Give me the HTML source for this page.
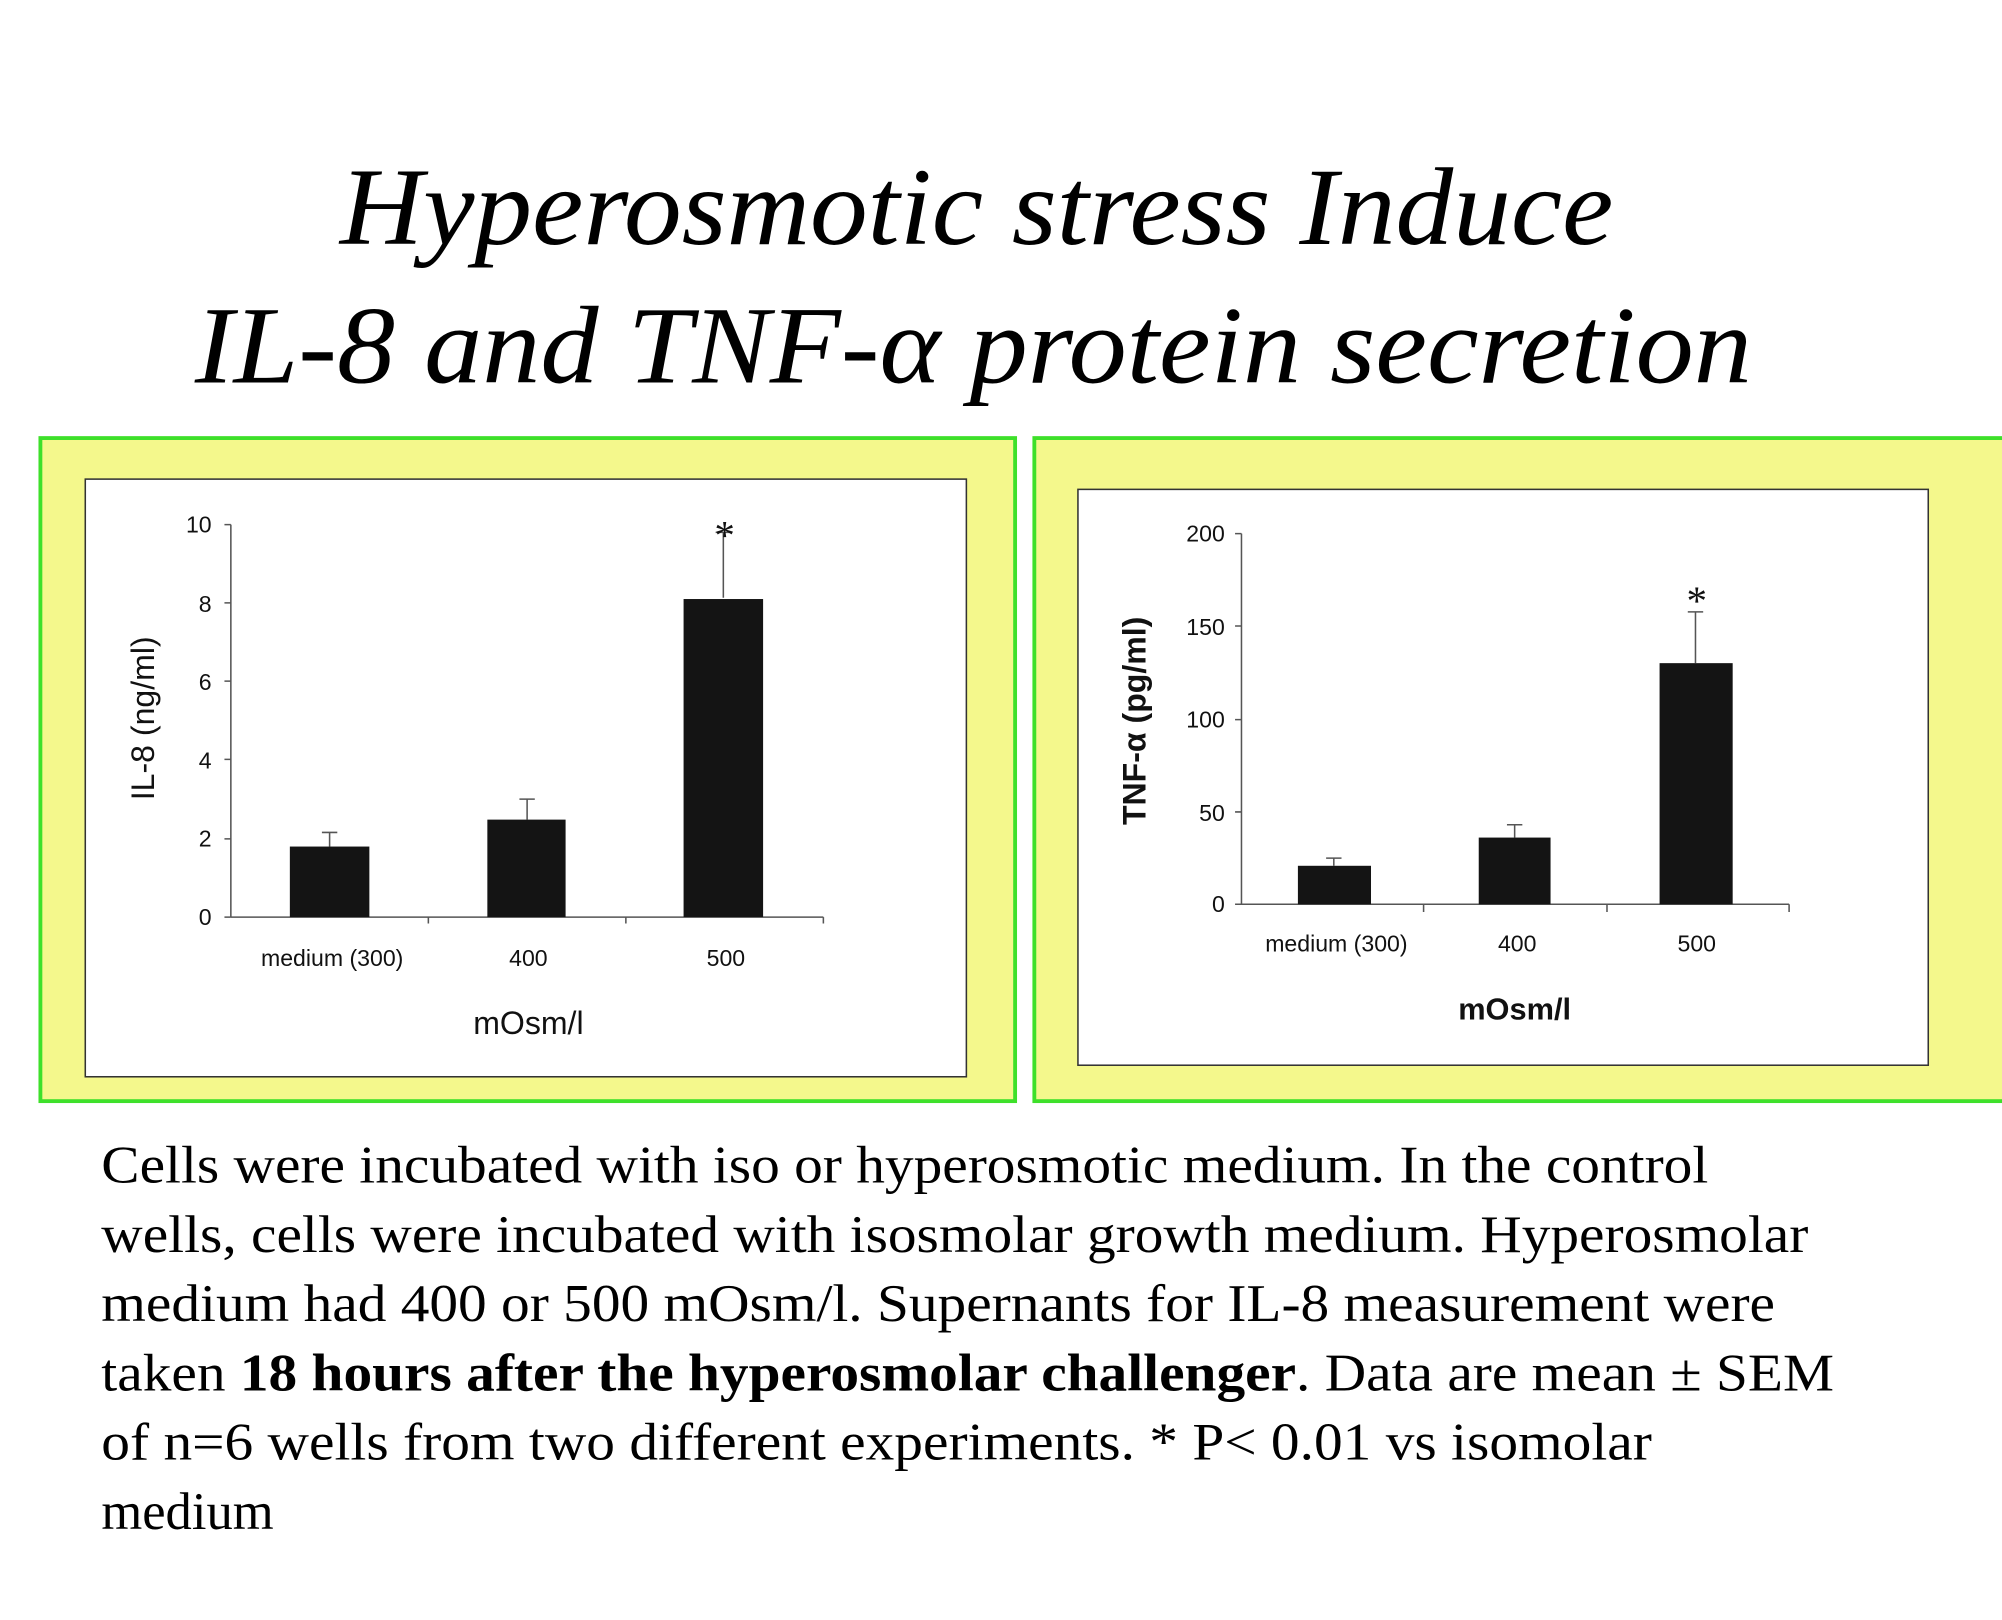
<!DOCTYPE html>
<html><head><meta charset="utf-8"><style>
html,body{margin:0;padding:0;background:#fff;}
svg{display:block;}
</style></head><body>
<svg width="2002" height="1620" viewBox="0 0 1561 1263" xmlns="http://www.w3.org/2000/svg">
<rect width="1561" height="1263" fill="#fff"/>
<g font-family="Liberation Serif, serif" font-style="italic" font-size="86" fill="#000">
<text x="265" y="190" textLength="993" lengthAdjust="spacingAndGlyphs">Hyperosmotic stress Induce</text>
<text x="152" y="298" textLength="1214" lengthAdjust="spacingAndGlyphs">IL-8 and TNF-α protein secretion</text>
</g>
<!-- left panel -->
<rect x="31.5" y="341.5" width="760" height="517" fill="#f4f88c" stroke="#3ee02a" stroke-width="3"/>
<rect x="66.5" y="373.5" width="687" height="466" fill="#fff" stroke="#333" stroke-width="1.2"/>
<g stroke="#555" stroke-width="1.2" fill="none">
<path d="M180 409V715M175 409H180M175 470H180M175 531H180M175 592H180M175 654H180M175 715H180"/>
<path d="M180 715H642M334 715v5M488 715v5M642 715v5"/>
<path d="M257 660V649M251 649H263M411 639V623M405 623H417M564 466V415M558 415H570"/>
</g>
<g fill="#141414">
<rect x="226" y="660" width="62" height="55"/>
<rect x="380" y="639" width="61" height="76"/>
<rect x="533" y="467" width="62" height="248"/>
</g>
<g font-family="Liberation Sans, sans-serif" font-size="18" fill="#111" text-anchor="end">
<text x="165" y="415">10</text><text x="165" y="477">8</text><text x="165" y="538">6</text>
<text x="165" y="599">4</text><text x="165" y="660">2</text><text x="165" y="721">0</text>
</g>
<g font-family="Liberation Sans, sans-serif" font-size="18" fill="#111" text-anchor="middle">
<text x="259" y="753">medium (300)</text><text x="412" y="753">400</text><text x="566" y="753">500</text>
<text x="412" y="806" font-size="25">mOsm/l</text>
<text transform="translate(120,560) rotate(-90)" font-size="25">IL-8 (ng/ml)</text>
<text x="565" y="428" font-family="Liberation Serif, serif" font-size="32">*</text>
</g>
<!-- right panel -->
<rect x="806.5" y="341.5" width="760" height="517" fill="#f4f88c" stroke="#3ee02a" stroke-width="3"/>
<rect x="840.5" y="381.5" width="663" height="449" fill="#fff" stroke="#333" stroke-width="1.2"/>
<g stroke="#555" stroke-width="1.2" fill="none">
<path d="M968 416V705M963 416H968M963 488H968M963 561H968M963 633H968M963 705H968"/>
<path d="M968 705H1395M1110 705v6M1253 705v6M1395 705v6"/>
<path d="M1040 675V669M1034 669H1046M1181 653V643M1175 643H1187M1322 517V477M1316 477H1328"/>
</g>
<g fill="#141414">
<rect x="1012" y="675" width="57" height="30"/>
<rect x="1153" y="653" width="56" height="52"/>
<rect x="1294" y="517" width="57" height="188"/>
</g>
<g font-family="Liberation Sans, sans-serif" font-size="18" fill="#111" text-anchor="end">
<text x="955" y="422">200</text><text x="955" y="495">150</text><text x="955" y="567">100</text>
<text x="955" y="640">50</text><text x="955" y="711">0</text>
</g>
<g font-family="Liberation Sans, sans-serif" font-size="18" fill="#111" text-anchor="middle">
<text x="1042" y="742">medium (300)</text><text x="1183" y="742">400</text><text x="1323" y="742">500</text>
<text x="1181" y="795" font-size="24" font-weight="bold">mOsm/l</text>
<text transform="translate(893,562) rotate(-90)" font-size="25" font-weight="bold">TNF-α  (pg/ml)</text>
<text x="1323" y="479" font-family="Liberation Serif, serif" font-size="32">*</text>
</g>
<!-- caption -->
<g font-family="Liberation Serif, serif" font-size="41" fill="#000">
<text x="79" y="922" textLength="1253" lengthAdjust="spacingAndGlyphs">Cells were incubated with iso or hyperosmotic medium. In the control</text>
<text x="79" y="976" textLength="1331" lengthAdjust="spacingAndGlyphs">wells, cells were incubated with isosmolar growth medium. Hyperosmolar</text>
<text x="79" y="1030" textLength="1305" lengthAdjust="spacingAndGlyphs">medium had 400 or 500 mOsm/l. Supernants for IL-8 measurement were</text>
<text x="79" y="1084" textLength="1351" lengthAdjust="spacingAndGlyphs">taken <tspan font-weight="bold">18 hours after the hyperosmolar challenger</tspan>. Data are mean ± SEM</text>
<text x="79" y="1138" textLength="1209" lengthAdjust="spacingAndGlyphs">of n=6 wells from two different experiments. * P&lt; 0.01 vs isomolar</text>
<text x="79" y="1192">medium</text>
</g>
</svg>
</body></html>
